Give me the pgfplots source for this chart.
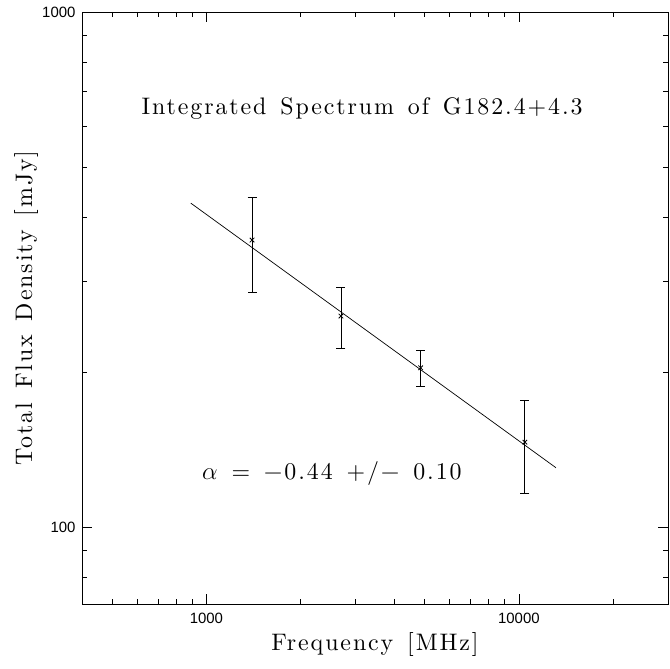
\documentclass[border=0pt]{standalone}
\usepackage{fontspec}
\usepackage{pgfplots}
\pgfplotsset{compat=1.18}
\newfontfamily\helv{Liberation Sans}
\newfontfamily\widefont{lmroman10-regular.otf}[LetterSpace=8, WordSpace=1.4]
\newcommand\wide{\widefont\fontsize{24}{28}\selectfont}
\begin{document}
\begin{tikzpicture}
\useasboundingbox (-82bp,-65bp) rectangle (588bp,604bp);
\begin{axis}[
  scale only axis, width=586bp, height=592bp,
  xmode=log, ymode=log,
  xmin=400, xmax=30000, ymin=71, ymax=1000,
  xtick={1000,10000}, xticklabels={\mbox{1000},\mbox{10000}},
  ytick={100,1000}, yticklabels={\mbox{100},\mbox{1000}},
  minor xtick={500,600,700,800,900,2000,3000,4000,5000,6000,7000,8000,9000,20000},
  minor ytick={80,90,200,300,400,500,600,700,800,900},
  tick align=inside, major tick length=10bp, minor tick length=5bp,
  ticklabel style={font=\helv\fontsize{15}{17}\selectfont},
  xticklabel style={yshift=-6bp},
  yticklabel style={xshift=-3bp},
  axis line style={line width=0.8bp},
  every tick/.style={black, line width=0.8bp},
  xlabel={Frequency [MHz]},
  ylabel={Total Flux Density [mJy]},
  xlabel style={font=\wide, at={(rel axis cs:0.5,0)}, anchor=base, yshift=-47bp},
  ylabel style={font=\wide, at={([xshift=-50bp]rel axis cs:0,0.5)}, anchor=base},
]
\addplot[black, line width=0.8bp, mark=x, mark size=3.2bp, only marks,
  error bars/.cd, y dir=both, y explicit, error mark=-, error bar style={line width=0.8bp},
  error mark options={mark size=4.5bp, line width=0.8bp, rotate=90}]
  table[x=x, y=y, y error plus=e, y error minus=e] {
  x y e
  1400 361 75
  2695 257 35
  4850 204 16
  10450 146.3 30
};
\addplot[black, line width=0.7bp, no marks] coordinates {(891,425.8) (13140,130.5)};
\node[font=\wide, anchor=base] at (axis cs:3150,632) {Integrated Spectrum of G182.4+4.3};
\node[font=\wide, anchor=base] at (axis cs:2521,124) {$\alpha$ = −0.44 +/− 0.10};
\end{axis}
\end{tikzpicture}
\end{document}
